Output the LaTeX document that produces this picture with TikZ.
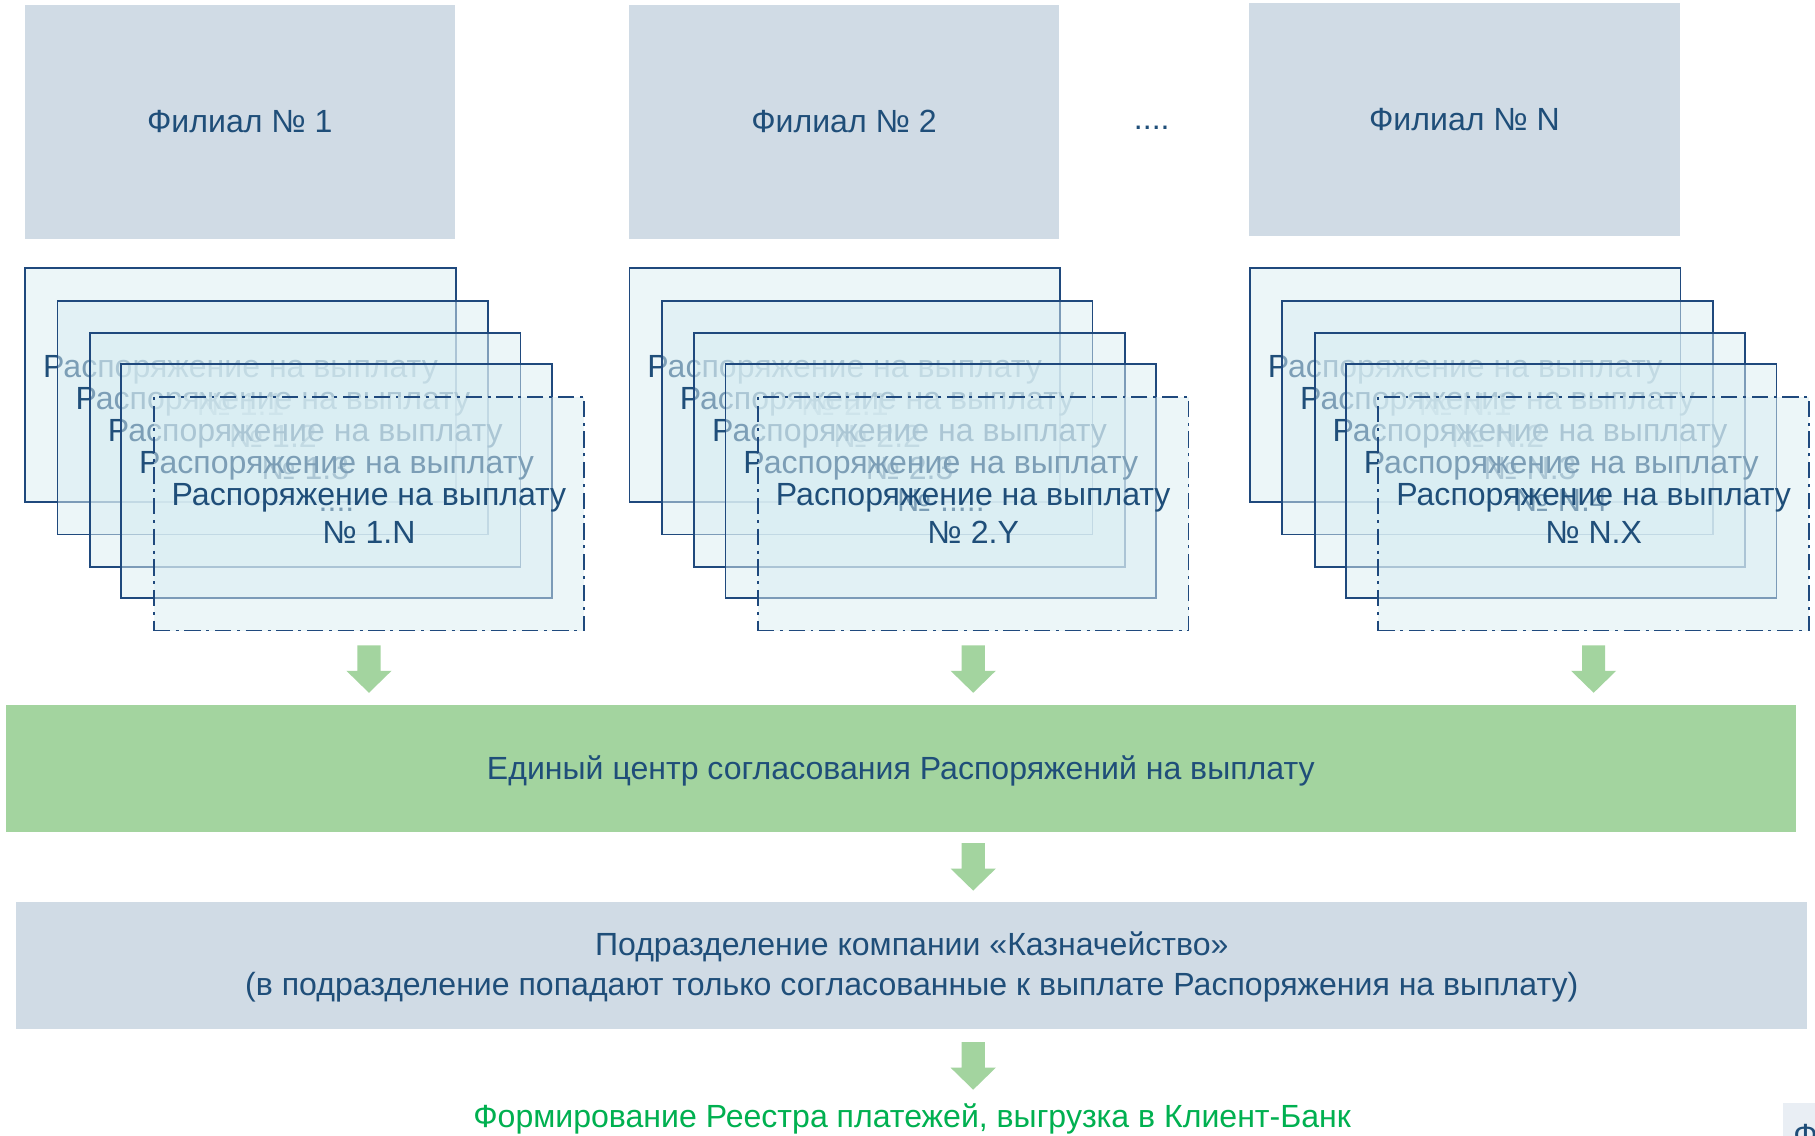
\documentclass[tikz,border=0pt]{standalone}
\usepackage{fontspec}
\setmainfont{Liberation Sans}
\usetikzlibrary{calc}
\definecolor{txt}{HTML}{1F4E79}
\definecolor{boxfill}{HTML}{D0DBE5}
\definecolor{cardfill}{HTML}{DAEEF3}
\definecolor{cardline}{HTML}{1F497D}
\definecolor{gfill}{HTML}{A3D49F}
\definecolor{gtext}{HTML}{00B050}
\definecolor{cornerfill}{HTML}{E9EEF4}
\newcommand{\mainfs}{\fontsize{27.7}{33}\selectfont}
\newcommand{\widefs}{\fontsize{27.7}{34}\selectfont}
\begin{document}
\begin{tikzpicture}[x=1pt,y=-1pt,
  branch/.style={fill=boxfill, minimum width=372pt, minimum height=202pt, anchor=north west, text=txt, font=\mainfs, inner sep=0},
  card/.style={draw=cardline, line width=1.5pt, fill=cardfill, fill opacity=0.5, text opacity=1, minimum width=372pt, minimum height=202pt, anchor=north west, inner sep=0, align=center, text=txt, font=\mainfs},
  lastcard/.style={card, dash pattern=on 14pt off 5pt on 2.5pt off 5pt},
  widebox/.style={minimum height=110pt, anchor=north west, inner sep=0},
  widetext/.style={align=center, text=txt, font=\widefs, inner sep=0},
  pics/blockarrow/.style={code={\fill[gfill] (-10,0) -- (10,0) -- (10,22) -- (19.5,22) -- (0,41) -- (-19.5,22) -- (-10,22) -- cycle;}}
]
\useasboundingbox (0,0) rectangle (1568,981);
\fill[white] (0,0) rectangle (1568,981);

% branches
\node[branch] (b1) at (21,4) {Филиал № 1};
\node[branch] (b2) at (543,4) {Филиал № 2};
\node[branch] (bn) at (1079,2) {Филиал № N};
\node[text=txt, font=\mainfs, inner sep=0] (dots) at (995,110) {....};

% group 1
\node[card] (c11) at (21,231) {Распоряжение на выплату\\№ 1.1};
\node[card] (c12) at (49,259) {Распоряжение на выплату\\№ 1.2};
\node[card] (c13) at (77,287) {Распоряжение на выплату\\№ 1.3};
\node[card] (c14) at (104,314) {Распоряжение на выплату\\....};
\node[lastcard] (c15) at (132,342) {Распоряжение на выплату\\№ 1.N};
% group 2
\node[card] (c21) at (543,231) {Распоряжение на выплату\\№ 2.1};
\node[card] (c22) at (571,259) {Распоряжение на выплату\\№ 2.2};
\node[card] (c23) at (599,287) {Распоряжение на выплату\\№ 2.3};
\node[card] (c24) at (626,314) {Распоряжение на выплату\\№ .....};
\node[lastcard] (c25) at (654,342) {Распоряжение на выплату\\№ 2.Y};
% group N
\node[card] (cn1) at (1079,231) {Распоряжение на выплату\\№ N.1};
\node[card] (cn2) at (1107,259) {Распоряжение на выплату\\№ N.2};
\node[card] (cn3) at (1135,287) {Распоряжение на выплату\\№ N.3};
\node[card] (cn4) at (1162,314) {Распоряжение на выплату\\№ N.4};
\node[lastcard] (cn5) at (1190,342) {Распоряжение на выплату\\№ N.X};

% central boxes
\node[widebox, fill=gfill, minimum width=1546pt] (center) at (5,609) {};
\node[widetext] (centertxt) at ($(center.center)+(0,2)$) {Единый центр согласования Распоряжений на выплату};
\node[widebox, fill=boxfill, minimum width=1547pt] (treas) at (14,779) {};
\node[widetext] (treastxt) at ($(treas.center)+(0,1)$) {Подразделение компании «Казначейство»\\(в подразделение попадают только согласованные к выплате Распоряжения на выплату)};
\node[text=gtext, font=\widefs, inner sep=0] (reg) at (788,967) {Формирование Реестра платежей, выгрузка в Клиент-Банк};

% block arrows
\pic at ($(c15.south)+(0,12)$) {blockarrow};
\pic at ($(c25.south)+(0,12)$) {blockarrow};
\pic at ($(cn5.south)+(0,12)$) {blockarrow};
\pic at ($(center.south -| c25.south)+(0,9)$) {blockarrow};
\pic at ($(treas.south -| c25.south)+(0,11)$) {blockarrow};

% partial node at the corner
\begin{scope}
\clip (0,0) rectangle (1568,981);
\node[fill=cornerfill, minimum width=60pt, minimum height=60pt, anchor=north west, inner sep=0] (corner) at (1540,953) {};
\node[text=txt, font=\mainfs, anchor=north west, inner sep=0] (cornertxt) at (1549,971) {Ф};
\end{scope}
\end{tikzpicture}
\end{document}
